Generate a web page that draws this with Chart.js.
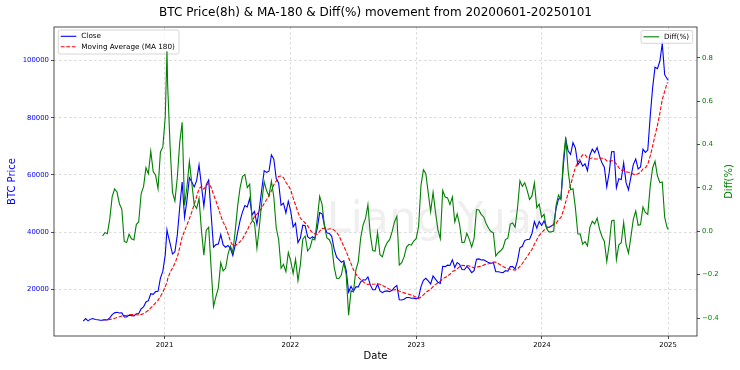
<!DOCTYPE html>
<html lang="en">
<head>
<meta charset="UTF-8">
<title>BTC Price(8h) & MA-180 & Diff(%)</title>
<style>
  html, body { margin: 0; padding: 0; background: #fff; }
  #wrap { width: 740px; height: 370px; }
</style>
</head>
<body>
<div id="wrap"><canvas id="myChart" width="740" height="370"></canvas></div>

<script src="https://cdn.jsdelivr.net/npm/chart.js"></script>
<script>
// weekly samples (plus one spike on 2021-01-08)
const v_dates = [
  "2020-05-10","2020-05-17","2020-05-24","2020-05-31","2020-06-07","2020-06-14","2020-06-21","2020-06-28",
  "2020-07-05","2020-07-12","2020-07-19","2020-07-26","2020-08-02","2020-08-09","2020-08-16","2020-08-23",
  "2020-08-30","2020-09-06","2020-09-13","2020-09-20","2020-09-27","2020-10-04","2020-10-11","2020-10-18",
  "2020-10-25","2020-11-01","2020-11-08","2020-11-15","2020-11-22","2020-11-29","2020-12-06","2020-12-13",
  "2020-12-20","2020-12-27",
  "2021-01-03","2021-01-08","2021-01-10","2021-01-17","2021-01-24","2021-01-31","2021-02-07","2021-02-14",
  "2021-02-21","2021-02-28","2021-03-07","2021-03-14","2021-03-21","2021-03-28","2021-04-04","2021-04-11",
  "2021-04-18","2021-04-25","2021-05-02","2021-05-09","2021-05-16","2021-05-23","2021-05-30","2021-06-06",
  "2021-06-13","2021-06-20","2021-06-27","2021-07-04","2021-07-11","2021-07-18","2021-07-25","2021-08-01",
  "2021-08-08","2021-08-15","2021-08-22","2021-08-29","2021-09-05","2021-09-12","2021-09-19","2021-09-26",
  "2021-10-03","2021-10-10","2021-10-17","2021-10-24","2021-10-31","2021-11-07","2021-11-14","2021-11-21",
  "2021-11-28","2021-12-05","2021-12-12","2021-12-19","2021-12-26",
  "2022-01-02","2022-01-09","2022-01-16","2022-01-23","2022-01-30","2022-02-06","2022-02-13","2022-02-20",
  "2022-02-27","2022-03-06","2022-03-13","2022-03-20","2022-03-27","2022-04-03","2022-04-10","2022-04-17",
  "2022-04-24","2022-05-01","2022-05-08","2022-05-15","2022-05-22","2022-05-29","2022-06-05","2022-06-12",
  "2022-06-19","2022-06-26","2022-07-03","2022-07-10","2022-07-17","2022-07-24","2022-07-31","2022-08-07",
  "2022-08-14","2022-08-21","2022-08-28","2022-09-04","2022-09-11","2022-09-18","2022-09-25","2022-10-02",
  "2022-10-09","2022-10-16","2022-10-23","2022-10-30","2022-11-06","2022-11-13","2022-11-20","2022-11-27",
  "2022-12-04","2022-12-11","2022-12-18","2022-12-25",
  "2023-01-01","2023-01-08","2023-01-15","2023-01-22","2023-01-29","2023-02-05","2023-02-12","2023-02-19",
  "2023-02-26","2023-03-05","2023-03-12","2023-03-19","2023-03-26","2023-04-02","2023-04-09","2023-04-16",
  "2023-04-23","2023-04-30","2023-05-07","2023-05-14","2023-05-21","2023-05-28","2023-06-04","2023-06-11",
  "2023-06-18","2023-06-25","2023-07-02","2023-07-09","2023-07-16","2023-07-23","2023-07-30","2023-08-06",
  "2023-08-13","2023-08-20","2023-08-27","2023-09-03","2023-09-10","2023-09-17","2023-09-24","2023-10-01",
  "2023-10-08","2023-10-15","2023-10-22","2023-10-29","2023-11-05","2023-11-12","2023-11-19","2023-11-26",
  "2023-12-03","2023-12-10","2023-12-17","2023-12-24","2023-12-31",
  "2024-01-07","2024-01-14","2024-01-21","2024-01-28","2024-02-04","2024-02-11","2024-02-18","2024-02-25",
  "2024-03-03","2024-03-10","2024-03-17","2024-03-24","2024-03-31","2024-04-07","2024-04-14","2024-04-21",
  "2024-04-28","2024-05-05","2024-05-12","2024-05-19","2024-05-26","2024-06-02","2024-06-09","2024-06-16",
  "2024-06-23","2024-06-30","2024-07-07","2024-07-14","2024-07-21","2024-07-28","2024-08-04","2024-08-11",
  "2024-08-18","2024-08-25","2024-09-01","2024-09-08","2024-09-15","2024-09-22","2024-09-29","2024-10-06",
  "2024-10-13","2024-10-20","2024-10-27","2024-11-03","2024-11-10","2024-11-17","2024-11-24","2024-12-01",
  "2024-12-08","2024-12-15","2024-12-22","2024-12-29","2024-12-31"
];

const v_close = [
  8800, 9700, 8900, 9500, 9700, 9400, 9300, 9100, 9100, 9300, 9200, 9950, 11100, 11700, 11900, 11650,
  11700, 10250, 10300, 10900, 10750, 10650, 11400, 11500, 13100, 13750, 15500, 15950, 18400, 18200, 19150, 19250,
  23850, 26300,
  32000, 40800, 39500, 36000, 32300, 33100, 39000, 48700, 57500, 45200, 51200, 59000, 57500, 55800, 58000, 63500,
  56200, 49000, 56600, 58200, 46400, 34700, 35600, 35800, 39100, 35500, 34700, 35300, 34300, 31800, 35400, 39900,
  44000, 47000, 49300, 48800, 51700, 46000, 47200, 42700, 48200, 54900, 61500, 60900, 61300, 67000, 65500, 58700,
  57200, 49400, 50100, 46700, 50800,
  47300, 41800, 43100, 36300, 37900, 42400, 42200, 38400, 37700, 38400, 37800, 41300, 46800, 46400, 42200, 39700,
  39500, 38500, 34000, 31300, 30300, 29400, 29900, 26600, 19000, 21000, 19300, 20800, 20800, 22600, 23300, 23200,
  24300, 21500, 19800, 19800, 21800, 19400, 18800, 19300, 19400, 19100, 19600, 20600, 21300, 16300, 16200, 16500,
  17100, 17100, 16800, 16850,
  16600, 17100, 20900, 23100, 23800, 22900, 21800, 24600, 23500, 22400, 22000, 28000, 27900, 28400, 28300, 30300,
  27600, 29300, 28700, 26900, 26800, 28000, 27100, 25800, 26500, 30500, 30600, 30200, 30300, 29800, 29300, 29100,
  29300, 26100, 26100, 25900, 25800, 26500, 26300, 27900, 27900, 27100, 29900, 34500, 35000, 37000, 37400, 37500,
  39500, 43700, 41400, 43700, 42300,
  43900, 41800, 41600, 42100, 42600, 48300, 51600, 51700, 63100, 72500, 68400, 67200, 71300, 69400, 63500, 64900,
  63100, 63900, 61500, 66900, 69000, 67800, 69600, 66600, 64300, 62700, 55800, 60800, 68100, 68200, 55500, 58700,
  58400, 64200, 57300, 54800, 59200, 63600, 65600, 62100, 62800, 69000, 67900, 68700, 80400, 90500, 97700, 97200,
  99800, 106000, 95100, 93700, 93400
];

const v_ma = [
  null, null, null, null, null, null, null, null,
  9300, 9360, 9300, 9420, 9570, 9790, 10070, 10330, 10620, 10750, 10860, 11050, 11140, 11090, 11060, 11010,
  11170, 11400, 11980, 12610, 13440, 14270, 15220, 16090, 17460, 18930,
  20960, 22300, 23620, 25850, 27390, 29050, 31260, 34530, 38270, 40370, 42500, 44670, 47060, 49670, 52430, 55160,
  55990, 55040, 56310, 57090, 55690, 53160, 50910, 48440, 45730, 43430, 41840, 39480, 36820, 35200, 35280, 35760,
  36670, 37540, 39080, 40640, 42470, 43770, 45480, 46290, 47210, 48420, 50030, 51320, 52710, 54410, 56580, 57860,
  59470, 59600, 59070, 57420, 56300,
  54740, 51940, 49460, 46970, 44820, 44040, 43170, 42240, 40790, 39800, 39360, 39160, 40320, 41270, 41240, 40970,
  41090, 41180, 40690, 39970, 38740, 36810, 34980, 33240, 31000, 28940, 26810, 25340, 24180, 23320, 22640, 21900,
  21640, 21870, 21730, 21790, 21900, 21740, 21320, 20880, 20460, 19880, 19670, 19760, 19920, 19310, 18960, 18700,
  18460, 18200, 17940, 17640,
  17190, 16730, 17240, 18010, 18820, 19460, 19980, 20850, 21590, 22230, 22780, 23570, 24100, 24610, 25210, 26160,
  26490, 27130, 27830, 28380, 28240, 28260, 28110, 27830, 27410, 27730, 27880, 28040, 28420, 28760, 28900, 29120,
  29510, 29470, 28980, 28460, 27970, 27540, 27160, 27000, 26870, 26620, 27040, 27980, 28990, 30230, 31440, 32690,
  33980, 35730, 37320, 38860, 39720,
  40710, 41240, 41710, 42220, 42570, 43080, 44210, 45100, 47410, 50590, 53540, 56390, 59630, 62610, 64300, 65780,
  67040, 67130, 65910, 65740, 65940, 65560, 65580, 65920, 65860, 65810, 64910, 64830, 64970, 64880, 63800, 62590,
  61680, 61670, 61070, 60960, 60780, 60280, 59990, 60430, 60890, 62070, 62480, 63740, 66590, 70070, 73860, 77370,
  81560, 86360, 89260, 92120, 92300
];

const v_diff = [
  null, null, null, null, null, null, null, null,
  -0.022, -0.006, -0.011, 0.057, 0.160, 0.195, 0.181, 0.127, 0.101, -0.047, -0.052, -0.014, -0.035, -0.040, 0.031, 0.044,
  0.173, 0.206, 0.293, 0.265, 0.369, 0.275, 0.258, 0.196, 0.366, 0.389,
  0.527, 0.830, 0.672, 0.393, 0.179, 0.139, 0.248, 0.410, 0.503, 0.120, 0.205, 0.321, 0.222, 0.123, 0.106, 0.151,
  0.004, -0.110, 0.005, 0.019, -0.167, -0.347, -0.301, -0.261, -0.145, -0.183, -0.171, -0.106, -0.068, -0.097, 0.003, 0.116,
  0.200, 0.252, 0.262, 0.201, 0.217, 0.051, 0.038, -0.078, 0.021, 0.134, 0.229, 0.187, 0.163, 0.231, 0.158, 0.015,
  -0.038, -0.171, -0.152, -0.187, -0.098,
  -0.136, -0.195, -0.129, -0.227, -0.154, -0.037, -0.022, -0.091, -0.076, -0.035, -0.040, 0.055, 0.161, 0.124, 0.023, -0.031,
  -0.039, -0.065, -0.164, -0.217, -0.218, -0.201, -0.145, -0.200, -0.387, -0.274, -0.280, -0.179, -0.140, -0.031, 0.029, 0.059,
  0.123, -0.017, -0.089, -0.091, -0.005, -0.108, -0.118, -0.076, -0.052, -0.039, -0.003, 0.043, 0.069, -0.156, -0.145, -0.118,
  -0.073, -0.060, -0.064, -0.045,
  -0.034, 0.022, 0.212, 0.283, 0.265, 0.177, 0.091, 0.180, 0.088, 0.008, -0.034, 0.188, 0.158, 0.154, 0.123, 0.158,
  0.042, 0.080, 0.031, -0.052, -0.051, -0.009, -0.036, -0.073, -0.033, 0.100, 0.098, 0.077, 0.066, 0.036, 0.014, -0.001,
  -0.007, -0.114, -0.099, -0.090, -0.077, -0.038, -0.032, 0.033, 0.038, 0.018, 0.106, 0.233, 0.207, 0.224, 0.189, 0.147,
  0.163, 0.223, 0.109, 0.125, 0.065,
  0.078, 0.013, -0.003, -0.003, 0.001, 0.121, 0.167, 0.146, 0.331, 0.433, 0.277, 0.192, 0.196, 0.108, -0.012, -0.013,
  -0.059, -0.048, -0.067, 0.018, 0.046, 0.034, 0.061, 0.010, -0.024, -0.047, -0.140, -0.062, 0.048, 0.051, -0.130, -0.062,
  -0.053, 0.041, -0.062, -0.101, -0.026, 0.055, 0.094, 0.028, 0.031, 0.112, 0.087, 0.078, 0.207, 0.292, 0.323, 0.256,
  0.224, 0.227, 0.065, 0.017, 0.012
];

const v_priceTicks = [20000, 40000, 60000, 80000, 100000];
const v_diffTicks = [-0.4, -0.2, 0.0, 0.2, 0.4, 0.6, 0.8];
const v_yearTicks = [2021, 2022, 2023, 2024, 2025];

// date string -> day number (x axis is days)
function f_day(s) {
    const p = s.split("-");
    return Date.UTC(+p[0], +p[1] - 1, +p[2]) / 86400000;
}

function f_points(vals) {
    let out = [];
    for (let i = 0; i < v_dates.length; i++) {
        out.push({ x: f_day(v_dates[i]), y: vals[i] });
    }
    return out;
}

const v_font = "'DejaVu Sans', 'Liberation Sans', sans-serif";
Chart.defaults.font.family = v_font;

const v_first = f_day(v_dates[0]);
const v_last = f_day(v_dates[v_dates.length - 1]);
const v_pad = (v_last - v_first) * 0.05;

// legend box like matplotlib
function f_legend(ctx, x, y, w, h, items) {
    ctx.save();
    ctx.beginPath();
    ctx.roundRect(x, y, w, h, 2);
    ctx.fillStyle = "rgba(255,255,255,0.8)";
    ctx.fill();
    ctx.lineWidth = 0.8;
    ctx.strokeStyle = "#cccccc";
    ctx.stroke();
    ctx.font = "7.25px " + v_font;
    ctx.textBaseline = "middle";
    ctx.textAlign = "left";
    for (let k = 0; k < items.length; k++) {
        const cy = y + 6.3 + k * 10.4;
        ctx.beginPath();
        ctx.setLineDash(items[k].dash);
        ctx.strokeStyle = items[k].color;
        ctx.lineWidth = 1.1;
        ctx.moveTo(x + 2.5, cy);
        ctx.lineTo(x + 18, cy);
        ctx.stroke();
        ctx.setLineDash([]);
        ctx.fillStyle = "#000";
        ctx.fillText(items[k].label, x + 23, cy);
    }
    ctx.restore();
}

const v_decor = {
    id: "decor",
    beforeDatasetDraw(chart, args) {
        // ax1 legend sits under the twin axis line
        if (args.index === 2) {
            f_legend(chart.ctx, 58.3, 30, 120.7, 24, [
                { label: "Close", color: "#0000ff", dash: [] },
                { label: "Moving Average (MA 180)", color: "#ff0000", dash: [3.8, 1.7] }
            ]);
        }
    },
    afterDatasetsDraw(chart) {
        const ctx = chart.ctx;
        const a = chart.chartArea;
        ctx.save();
        ctx.strokeStyle = "#222";
        ctx.lineWidth = 0.8;
        ctx.strokeRect(a.left, a.top, a.right - a.left, a.bottom - a.top);
        ctx.restore();

        f_legend(ctx, 641, 30.5, 51.7, 12.8, [
            { label: "Diff(%)", color: "#008000", dash: [] }
        ]);

        // right axis title, reads bottom to top
        ctx.save();
        ctx.translate(729, (a.top + a.bottom) / 2);
        ctx.rotate(-Math.PI / 2);
        ctx.font = "10px " + v_font;
        ctx.fillStyle = "#008000";
        ctx.textAlign = "center";
        ctx.textBaseline = "middle";
        ctx.fillText("Diff(%)", 0, 0);
        ctx.restore();

        // watermark
        ctx.save();
        ctx.font = "43px " + v_font;
        ctx.fillStyle = "rgba(128,128,128,0.13)";
        ctx.textAlign = "center";
        ctx.textBaseline = "alphabetic";
        ctx.fillText("Liang Yuan", 443, 232);
        ctx.restore();
    }
};

const ctx = document.getElementById("myChart");

new Chart(ctx, {
    type: "line",
    data: {
        datasets: [{
            label: "Close",
            data: f_points(v_close),
            yAxisID: "y",
            borderColor: "#0000ff",
            borderWidth: 1.1,
            order: 3
        }, {
            label: "Moving Average (MA 180)",
            data: f_points(v_ma),
            yAxisID: "y",
            borderColor: "#ff0000",
            borderWidth: 1.1,
            borderDash: [3.8, 1.7],
            order: 2
        }, {
            label: "Diff(%)",
            data: f_points(v_diff),
            yAxisID: "y1",
            borderColor: "#008000",
            borderWidth: 1.1,
            order: 1
        }]
    },
    plugins: [v_decor],
    options: {
        responsive: false,
        devicePixelRatio: 1,
        animation: false,
        parsing: true,
        elements: {
            point: { radius: 0 },
            line: { tension: 0, fill: false }
        },
        layout: { padding: 0 },
        plugins: {
            legend: { display: false },
            tooltip: { enabled: false },
            title: {
                display: true,
                fullSize: false,
                text: "BTC Price(8h) & MA-180 & Diff(%) movement from 20200601-20250101",
                color: "#000",
                font: { size: 12, weight: "normal", lineHeight: 1.2 },
                padding: { top: 5.5, bottom: 7.1 }
            }
        },
        scales: {
            x: {
                type: "linear",
                position: "bottom",
                min: v_first - v_pad,
                max: v_last + v_pad,
                afterBuildTicks: (scale) => {
                    scale.ticks = v_yearTicks.map(y => ({ value: f_day(y + "-01-01") }));
                },
                afterFit: (scale) => { scale.height = 34; },
                ticks: {
                    autoSkip: false,
                    maxRotation: 0,
                    padding: 2,
                    color: "#000",
                    font: { size: 6.9 },
                    callback: (value) => String(new Date(value * 86400000).getUTCFullYear())
                },
                grid: {
                    color: "#d2d2d2",
                    lineWidth: 0.8,
                    tickLength: 3,
                    tickColor: "#222",
                    tickWidth: 0.8
                },
                border: { display: false, dash: [2.5, 2.5] },
                title: {
                    display: true,
                    text: "Date",
                    color: "#000",
                    font: { size: 10, lineHeight: 1.2 },
                    padding: { top: 0, bottom: 8 }
                }
            },
            y: {
                type: "linear",
                position: "left",
                min: 3600,
                max: 111800,
                afterBuildTicks: (scale) => {
                    scale.ticks = v_priceTicks.map(v => ({ value: v }));
                },
                afterFit: (scale) => { scale.width = 54; },
                ticks: {
                    padding: 2,
                    color: "#0000ff",
                    font: { size: 6.9 },
                    callback: (value) => String(value)
                },
                grid: {
                    color: "#d2d2d2",
                    lineWidth: 0.8,
                    tickLength: 3,
                    tickColor: "#222",
                    tickWidth: 0.8
                },
                border: { display: false, dash: [2.5, 2.5] },
                title: {
                    display: true,
                    text: "BTC Price",
                    color: "#0000ff",
                    font: { size: 10, lineHeight: 1.2 },
                    padding: { top: 6, bottom: 0 }
                }
            },
            y1: {
                type: "linear",
                position: "right",
                min: -0.483,
                max: 0.942,
                afterBuildTicks: (scale) => {
                    scale.ticks = v_diffTicks.map(v => ({ value: v }));
                },
                afterFit: (scale) => { scale.width = 43; },
                ticks: {
                    padding: 2,
                    color: "#008000",
                    font: { size: 6.9 },
                    callback: (value) => (value < -0.0001 ? "\u2212" : "") + Math.abs(value).toFixed(1)
                },
                grid: {
                    drawOnChartArea: false,
                    tickLength: 3,
                    tickColor: "#222",
                    tickWidth: 0.8
                },
                border: { display: false }
            }
        }
    }
});
</script>
</body>
</html>
